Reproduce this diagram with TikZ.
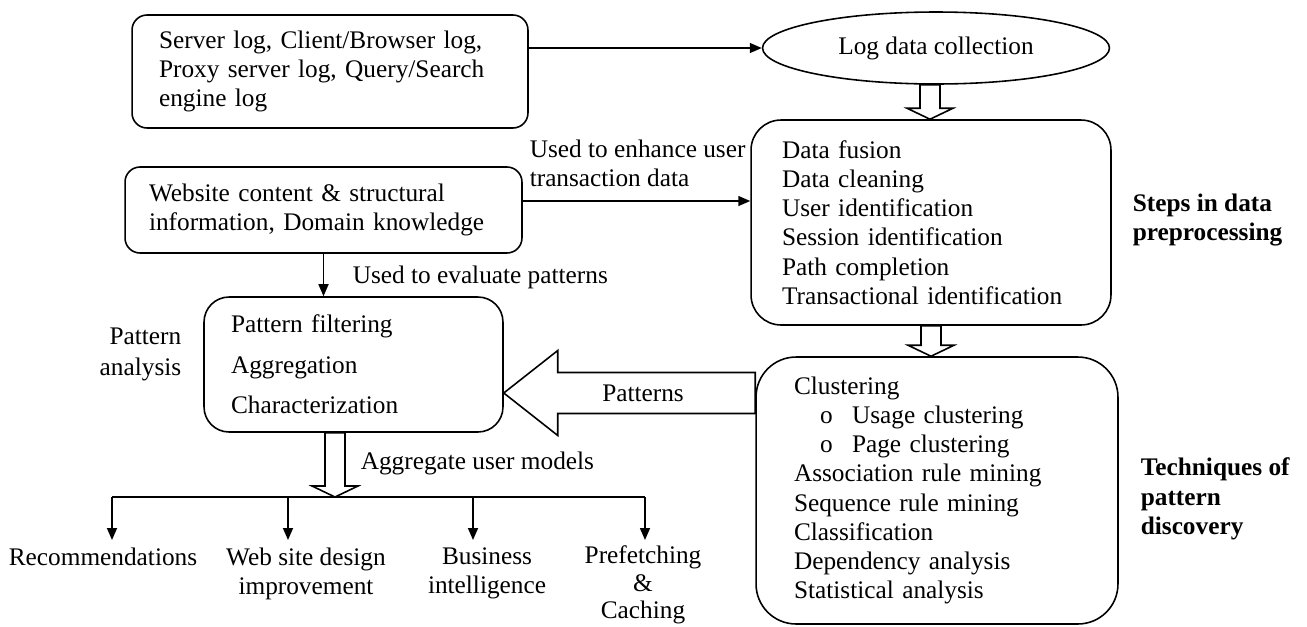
\documentclass[tikz,border=0pt]{standalone}
\usepackage{fontspec}
\setmainfont{Liberation Serif}
\usetikzlibrary{shapes.geometric,arrows.meta,calc}

\tikzset{
  box/.style={draw, align=left, inner ysep=0pt},
  arr/.style={-{Triangle[length=0.24cm,width=0.2cm]}},
  lbl/.style={inner sep=0pt},
  sidelbl/.style={inner sep=0pt, anchor=west, align=left, font=\fontsize{14.4}{16.8}\selectfont\bfseries},
}

% hollow arrow going down, tip on the second point
\newcommand{\fatdown}[2]{%
  \draw[fill=white] let \p1=(#1), \p2=(#2) in
    (\x1-0.2cm,\y1) -- (\x1-0.2cm,\y2+0.22cm) -- (\x1-0.46cm,\y2+0.22cm) -- (\x1,\y2)
    -- (\x1+0.46cm,\y2+0.22cm) -- (\x1+0.2cm,\y2+0.22cm) -- (\x1+0.2cm,\y1) -- cycle;}

% hollow arrow going left
\newcommand{\fatleft}[2]{%
  \draw[fill=white] let \p1=(#1), \p2=(#2) in
    (\x1,\y2+0.41cm) -- (\x2+1.08cm,\y2+0.41cm) -- (\x2+1.08cm,\y2+0.85cm) -- (\x2,\y2)
    -- (\x2+1.08cm,\y2-0.85cm) -- (\x2+1.08cm,\y2-0.41cm) -- (\x1,\y2-0.41cm) -- cycle;}

\begin{document}
\begin{tikzpicture}[x=0.02cm, y=-0.02cm, line width=0.9pt, font=\fontsize{14.4}{16.6}\selectfont]
    \useasboundingbox (0,0) rectangle (1307,626);

    % Log sources and collection
    \node[box, rounded corners=0.3cm, text width=6.84cm, inner xsep=0.54cm, minimum height=2.26cm] (srclog) at (330,71.5)
        {Server log, Client/Browser log,\\Proxy server log, Query/Search\\engine log};
    \node[ellipse, draw, minimum width=6.94cm, minimum height=1.44cm, inner sep=0pt] (logcol) at (936,48) {Log data collection};
    \draw[arr] (srclog.east |- logcol.west) -- (logcol.west);

    % Preprocessing
    \node[box, rounded corners=0.6cm, text width=5.96cm, inner xsep=0.62cm, minimum height=4.1cm] (prep) at (931,222.5)
        {Data fusion\\Data cleaning\\User identification\\Session identification\\Path completion\\Transactional identification};
    \node[sidelbl] (preplbl) at (1132,220) {Steps in data\\preprocessing};
    \fatdown{[xshift=-0.12cm]logcol.south}{prep.north}

    % Website content
    \node[box, rounded corners=0.3cm, text width=6.98cm, inner xsep=0.48cm, minimum height=1.72cm] (webinfo) at (323.5,210)
        {Website content \& structural\\information, Domain knowledge};
    \draw[arr] ([yshift=0.18cm]webinfo.east) -- ([yshift=0.18cm]webinfo.east -| prep.west);
    \node[lbl, anchor=west, align=left] (enhlbl) at (529,163) {Used to enhance user\\transaction data};

    % Pattern discovery
    \node[box, rounded corners=0.8cm, text width=5.72cm, inner xsep=0.76cm, minimum height=5.34cm] (techs) at (937,490.5)
        {Clustering\\
         \hspace*{0.52cm}\makebox[0.64cm][l]{o}Usage clustering\\
         \hspace*{0.52cm}\makebox[0.64cm][l]{o}Page clustering\\
         Association rule mining\\Sequence rule mining\\Classification\\Dependency analysis\\Statistical analysis};
    \node[sidelbl] (techlbl) at (1140,499) {Techniques of\\pattern\\discovery};
    \fatdown{prep.south}{techs.north}

    % Pattern analysis
    \node[box, rounded corners=0.5cm, text width=4.9cm, inner xsep=0.54cm, minimum height=2.7cm,
          font=\fontsize{14.4}{23}\selectfont] (patt) at (353.5,364.5)
        {Pattern filtering\\Aggregation\\Characterization};
    \node[lbl, anchor=east, align=right, font=\fontsize{14.4}{17.6}\selectfont] (pattlbl) at (182,354.5) {Pattern\\analysis};
    \draw[arr] (webinfo.south) -- (webinfo.south |- patt.north);
    \node[lbl, anchor=west] (evallbl) at (352,277) {Used to evaluate patterns};
    \fatleft{techs.west}{[yshift=-0.57cm]patt.east}
    \node[lbl] (patlbl) at (643,393) {Patterns};

    % Applications
    \coordinate (b1) at (112,497);
    \coordinate (b2) at (288,497);
    \coordinate (b3) at (473,497);
    \coordinate (b4) at (645,497);
    \draw (b1) -- (b4);
    \fatdown{[xshift=-0.37cm]patt.south}{b1}
    \node[lbl, anchor=west] (agglbl) at (360,463) {Aggregate user models};

    \node[lbl, anchor=north, align=center, inner ysep=0.14cm] (rec) at (103,540) {Recommendations};
    \node[lbl, anchor=north, align=center, inner ysep=0.14cm] (web) at (306,540) {Web site design\\improvement};
    \node[lbl, anchor=north, align=center, inner ysep=0.14cm] (bus) at (487,540) {Business\\intelligence};
    \node[lbl, anchor=north, align=center, inner ysep=0.1cm, font=\fontsize{14.4}{15.6}\selectfont] (pref) at (643,540)
        {Prefetching\\\&\\Caching};
    \draw[arr] (b1) -- (b1 |- rec.north);
    \draw[arr] (b2) -- (b2 |- web.north);
    \draw[arr] (b3) -- (b3 |- bus.north);
    \draw[arr] (b4) -- (b4 |- pref.north);

\end{tikzpicture}
\end{document}
